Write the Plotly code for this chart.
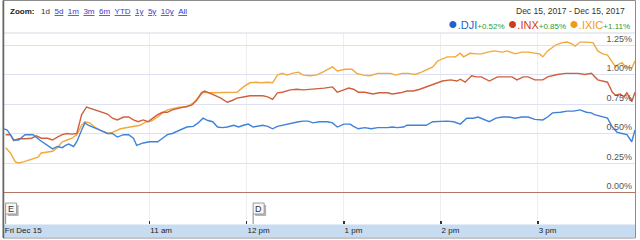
import pandas as pd
import plotly.graph_objects as go

# ---------------- data (minutes after 09:30 open, % change) ----------------
session_date = "2017-12-15"
open_time = "09:30"

dji_minutes = [0, 2, 6, 9, 13, 18, 22, 27, 30, 33, 36, 38, 40, 43, 45, 48, 50, 52, 55, 59,
               64, 67, 70, 74, 77, 80, 82, 86, 90, 95, 98, 101, 104, 109, 113, 117, 120, 123,
               126, 129, 132, 135, 138, 142, 145, 148, 151, 154, 157, 160, 163, 166, 169, 172,
               175, 179, 182, 185, 188, 191, 195, 200, 203, 206, 210, 214, 216, 219, 223, 227,
               231, 237, 240, 243, 247, 249, 253, 257, 261, 265, 270, 274, 278, 282, 286, 290,
               293, 296, 300, 304, 308, 312, 316, 320, 324, 328, 333, 336, 339, 344, 348, 352,
               356, 360, 363, 365, 370, 373, 376, 379, 382, 385, 388, 390]
dji_pct = [0.54, 0.53, 0.445, 0.445, 0.49, 0.49, 0.445, 0.40, 0.37, 0.39, 0.38, 0.40, 0.41, 0.39,
           0.43, 0.53, 0.59, 0.57, 0.555, 0.53, 0.50, 0.50, 0.47, 0.49, 0.49, 0.46, 0.40, 0.42,
           0.43, 0.43, 0.46, 0.49, 0.50, 0.53, 0.555, 0.56, 0.59, 0.63, 0.61, 0.60, 0.555, 0.55,
           0.555, 0.57, 0.555, 0.57, 0.58, 0.555, 0.56, 0.57, 0.56, 0.54, 0.56, 0.57, 0.58, 0.59,
           0.60, 0.605, 0.605, 0.59, 0.60, 0.60, 0.59, 0.555, 0.58, 0.58, 0.56, 0.54, 0.55, 0.54,
           0.55, 0.55, 0.555, 0.55, 0.555, 0.57, 0.57, 0.57, 0.57, 0.60, 0.605, 0.605, 0.60, 0.58,
           0.63, 0.63, 0.64, 0.62, 0.60, 0.63, 0.64, 0.64, 0.63, 0.64, 0.64, 0.62, 0.615, 0.64,
           0.675, 0.68, 0.69, 0.69, 0.70, 0.68, 0.675, 0.66, 0.64, 0.63, 0.555, 0.51, 0.50, 0.49,
           0.43, 0.53]

inx_minutes = [1, 4, 6, 9, 13, 17, 20, 23, 27, 30, 33, 36, 39, 42, 45, 48, 51, 53, 56, 59, 64,
               67, 70, 74, 77, 80, 83, 86, 89, 92, 95, 98, 101, 104, 109, 112, 116, 119, 122, 124,
               127, 130, 134, 138, 141, 144, 148, 152, 156, 160, 163, 166, 169, 172, 177, 181, 185,
               189, 193, 198, 203, 206, 210, 213, 216, 219, 223, 228, 232, 237, 240, 245, 249, 253,
               257, 261, 263, 268, 271, 276, 280, 282, 285, 289, 292, 295, 300, 305, 310, 314, 317,
               321, 324, 328, 333, 336, 342, 347, 351, 355, 359, 363, 367, 370, 373, 376, 378, 381,
               383, 385, 388, 390]
inx_pct = [0.49, 0.49, 0.44, 0.455, 0.455, 0.46, 0.48, 0.46, 0.46, 0.445, 0.47, 0.49, 0.50, 0.495,
           0.50, 0.66, 0.725, 0.715, 0.70, 0.69, 0.665, 0.63, 0.615, 0.64, 0.64, 0.615, 0.60, 0.615,
           0.60, 0.63, 0.66, 0.68, 0.68, 0.70, 0.715, 0.73, 0.74, 0.78, 0.845, 0.86, 0.845, 0.825,
           0.80, 0.765, 0.78, 0.80, 0.81, 0.82, 0.82, 0.82, 0.81, 0.79, 0.845, 0.85, 0.87, 0.875,
           0.87, 0.875, 0.875, 0.885, 0.895, 0.85, 0.87, 0.885, 0.875, 0.85, 0.85, 0.835, 0.845,
           0.845, 0.835, 0.845, 0.86, 0.86, 0.875, 0.895, 0.91, 0.935, 0.945, 0.955, 0.945, 0.96,
           0.935, 0.99, 0.98, 0.98, 0.945, 0.98, 0.98, 0.98, 0.955, 0.98, 0.98, 0.955, 0.955, 0.98,
           1.00, 1.01, 1.01, 1.01, 1.00, 1.01, 0.955, 0.945, 0.935, 0.85, 0.825, 0.835, 0.81,
           0.845, 0.77, 0.85]

ixic_minutes = [1, 4, 7, 9, 12, 16, 19, 21, 23, 27, 30, 33, 36, 39, 42, 45, 48, 50, 53, 56, 59,
                64, 67, 72, 76, 80, 84, 88, 91, 95, 98, 101, 104, 109, 113, 117, 120, 123, 127, 132,
                135, 140, 144, 148, 152, 156, 159, 163, 166, 169, 172, 175, 178, 182, 185, 189, 193,
                197, 200, 203, 206, 211, 215, 218, 222, 226, 231, 234, 239, 242, 246, 250, 254, 258,
                261, 265, 268, 271, 274, 279, 282, 284, 288, 292, 295, 299, 303, 308, 311, 316, 320,
                324, 328, 331, 333, 336, 341, 345, 348, 351, 353, 356, 360, 364, 367, 370, 373, 376,
                378, 379, 382, 384, 386, 388, 390]
ixic_pct = [0.38, 0.335, 0.26, 0.25, 0.26, 0.275, 0.29, 0.30, 0.335, 0.345, 0.35, 0.38, 0.43, 0.445,
            0.46, 0.49, 0.57, 0.60, 0.59, 0.555, 0.53, 0.50, 0.51, 0.54, 0.55, 0.555, 0.57, 0.60,
            0.605, 0.64, 0.675, 0.70, 0.71, 0.725, 0.725, 0.76, 0.80, 0.85, 0.845, 0.845, 0.845,
            0.845, 0.85, 0.895, 0.93, 0.935, 0.93, 0.935, 0.93, 0.995, 1.01, 0.995, 1.01, 1.02,
            0.995, 0.99, 0.995, 1.02, 1.04, 1.065, 1.03, 1.045, 1.045, 1.01, 0.995, 0.99, 1.01, 1.01,
            1.01, 0.995, 1.01, 1.01, 1.00, 1.02, 1.04, 1.065, 1.115, 1.13, 1.15, 1.15, 1.18, 1.15,
            1.18, 1.175, 1.175, 1.19, 1.20, 1.19, 1.20, 1.175, 1.19, 1.19, 1.18, 1.175, 1.15, 1.20,
            1.25, 1.27, 1.275, 1.26, 1.24, 1.275, 1.275, 1.27, 1.20, 1.175, 1.165, 1.10, 1.065,
            1.08, 1.10, 1.065, 1.065, 1.055, 1.115]

series_names = [".DJI", ".INX", ".IXIC"]
series_changes = ["+0.52%", "+0.85%", "+1.11%"]

y_tick_values = [0.0, 0.25, 0.5, 0.75, 1.0, 1.25]
y_tick_labels = ["0.00%", "0.25%", "0.50%", "0.75%", "1.00%", "1.25%"]

x_tick_times = ["09:30", "11:00", "12:00", "13:00", "14:00", "15:00"]
x_tick_labels = ["Fri Dec 15", "11 am", "12 pm", "1 pm", "2 pm", "3 pm"]

event_times = ["09:31", "12:04"]
event_labels = ["E", "D"]

zoom_links = ["5d", "1m", "3m", "6m", "YTD", "1y", "5y", "10y", "All"]
date_range_text = "Dec 15, 2017 - Dec 15, 2017"

# ---------------- styles ----------------
line_colors = ["#3f82d8", "#d0603c", "#f2a93b"]
name_colors = ["#1f62cf", "#d23c14", "#f39a12"]
change_color = "#2f9a2f"
FONT = "Liberation Sans, Arial, sans-serif"

t0 = pd.Timestamp(f"{session_date} {open_time}")


def to_times(minutes):
    return [t0 + pd.Timedelta(minutes=m) for m in minutes]


fig = go.Figure()
for mins, vals, col, name in [
    (ixic_minutes, ixic_pct, line_colors[2], series_names[2]),
    (inx_minutes, inx_pct, line_colors[1], series_names[1]),
    (dji_minutes, dji_pct, line_colors[0], series_names[0]),
]:
    fig.add_trace(go.Scatter(x=to_times(mins), y=vals, mode="lines", name=name,
                             line=dict(color=col, width=1.4), hoverinfo="skip"))

W, H = 640, 240
ML, MR, MT, MB = 4, 5, 33, 16
PW, PH = W - ML - MR, H - MT - MB
MIN_PER_PX = 390 / PW


def px_x(p):  # pixel -> paper x
    return (p - ML) / PW


def px_y(p):  # pixel -> paper y
    return (H - MB - p) / PH


shapes = []
# blue axis band
shapes.append(dict(type="rect", xref="paper", yref="paper", x0=0, x1=1,
                   y0=px_y(237), y1=px_y(224.5), fillcolor="#c7dbf1",
                   line=dict(width=0), layer="below"))
# header separator
shapes.append(dict(type="line", xref="paper", yref="paper", x0=0, x1=1, y0=1, y1=1,
                   line=dict(color="#d6d8e2", width=1)))
# outer frame
shapes.append(dict(type="rect", xref="paper", yref="paper", x0=px_x(3), x1=px_x(635.5),
                   y0=px_y(238), y1=px_y(0.5), line=dict(color="#8c8c8c", width=1)))
shapes.append(dict(type="line", xref="paper", yref="paper", x0=px_x(3.5), x1=px_x(3.5),
                   y0=px_y(238), y1=px_y(0.5), line=dict(color="#666666", width=1.5)))

annotations = []
# zoom row
nb = "\u00a0"
zoom_txt = "<b>Zoom:</b>" + nb * 3 + "<span style='color:#333'>1d</span>"
for z in zoom_links:
    zoom_txt += nb * 2 + f"<span style='color:#3a3ac8'><u>{z}</u></span>"
annotations.append(dict(text=zoom_txt, xref="paper", yref="paper", x=px_x(8), y=px_y(12),
                        xanchor="left", yanchor="middle", showarrow=False,
                        font=dict(family=FONT, size=8, color="#222")))
# date range
annotations.append(dict(text=date_range_text, xref="paper", yref="paper", x=px_x(627),
                        y=px_y(11), xanchor="right", yanchor="middle", showarrow=False,
                        font=dict(family=FONT, size=8.5, color="#333")))
# legend row
leg = ""
for i, (n, c) in enumerate(zip(series_names, series_changes)):
    if i:
        leg += " "
    leg += (f"<span style='color:{name_colors[i]};font-size:16px'>●</span>"
            f"<span style='color:{name_colors[i]};font-size:11px'>{n}</span>"
            f"<span style='color:{change_color};font-size:8px'>{c}</span>")
annotations.append(dict(text=leg, xref="paper", yref="paper", x=px_x(632), y=px_y(23),
                        xanchor="right", yanchor="middle", showarrow=False,
                        font=dict(family=FONT, size=11)))
# event flags (box with a soft shadow and a pole down to the axis)
for et, el in zip(event_times, event_labels):
    tt = pd.Timestamp(f"{session_date} {et}")
    shapes.append(dict(type="line", xref="x", yref="paper", x0=tt, x1=tt, y0=0,
                       y1=px_y(214), line=dict(color="#8a8a8a", width=1)))
    shapes.append(dict(type="rect", xref="x", yref="paper",
                       x0=tt + pd.Timedelta(minutes=2 * MIN_PER_PX),
                       x1=tt + pd.Timedelta(minutes=13 * MIN_PER_PX),
                       y0=px_y(216), y1=px_y(205),
                       fillcolor="#b5b5b5", line=dict(width=0)))
    shapes.append(dict(type="rect", xref="x", yref="paper",
                       x0=tt, x1=tt + pd.Timedelta(minutes=11 * MIN_PER_PX),
                       y0=px_y(214), y1=px_y(203),
                       fillcolor="#f8f8f8", line=dict(color="#9a9a9a", width=1)))
    annotations.append(dict(text=el, xref="x", yref="paper",
                            x=tt + pd.Timedelta(minutes=5.5 * MIN_PER_PX), y=px_y(208.5),
                            xanchor="center", yanchor="middle", showarrow=False,
                            font=dict(family=FONT, size=9, color="#333")))

fig.update_layout(
    width=W, height=H,
    margin=dict(l=ML, r=MR, t=MT, b=MB, pad=0),
    paper_bgcolor="white", plot_bgcolor="white",
    showlegend=False, hovermode=False,
    shapes=shapes, annotations=annotations,
    xaxis=dict(type="date",
               range=[t0, t0 + pd.Timedelta(minutes=390)],
               tickvals=[pd.Timestamp(f"{session_date} {t}") for t in x_tick_times],
               ticktext=x_tick_labels,
               ticks="inside", ticklen=3, tickwidth=1.5, tickcolor="#333",
               ticklabelposition="outside right",
               tickfont=dict(family=FONT, size=8, color="#222"),
               showgrid=True, gridcolor="#eeeeee", gridwidth=1,
               showline=False, zeroline=False, fixedrange=True),
    yaxis=dict(side="right",
               range=[-0.267, 1.352],
               tickvals=y_tick_values, ticktext=y_tick_labels,
               ticks="", ticklabelposition="inside top",
               tickfont=dict(family=FONT, size=9, color="#555"),
               showgrid=True, gridcolor="#dfe1f0", gridwidth=1,
               zeroline=True, zerolinecolor="#b57565", zerolinewidth=1,
               showline=False, fixedrange=True),
)

fig.write_html("out.html", config={"displayModeBar": False, "staticPlot": True})
